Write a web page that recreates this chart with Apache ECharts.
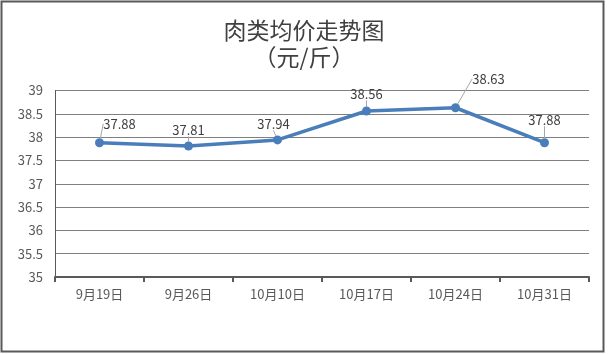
<!DOCTYPE html>
<html>
<head>
<meta charset="utf-8">
<script src="https://cdn.jsdelivr.net/npm/echarts@6/dist/echarts.min.js"></script>
<style>
  html, body { margin: 0; padding: 0; background: #fff; }
  #main { width: 608px; height: 354px; }
</style>
</head>
<body>
<div id="main"></div>
<script>
// 日期
const dates = ['9月19日', '9月26日', '10月10日', '10月17日', '10月24日', '10月31日'];
// 肉类均价（元/斤）
const prices = [37.88, 37.81, 37.94, 38.56, 38.63, 37.88];

const myChart = echarts.init(document.getElementById('main'));
const font = '"Noto Sans CJK SC", "Noto Sans", sans-serif';
// 标签偏移
const labelShift = [[20, -2], [0, 1], [-4, 1], [0, 0], [33, -12], [0, -6]];

myChart.setOption({
  animation: false,
  graphic: [{
    type: 'rect',
    shape: { x: 1.5, y: 1.5, width: 602, height: 350 },
    style: { fill: 'none', stroke: '#595959', lineWidth: 2 }
  }],
  title: {
    text: '肉类均价走势图\n（元/斤）',
    left: 'center',
    top: 12,
    textStyle: { fontFamily: font, fontSize: 23, fontWeight: 'normal', color: '#404040', lineHeight: 27 }
  },
  grid: { left: 55, right: 19, top: 90.5, bottom: 77 },
  xAxis: {
    type: 'category',
    data: dates,
    boundaryGap: true,
    axisLine: { lineStyle: { color: '#595959', width: 2 } },
    axisTick: { show: true, length: 5, lineStyle: { color: '#595959', width: 2 } },
    axisLabel: { fontFamily: font, fontSize: 13, color: '#595959', margin: 11 }
  },
  yAxis: {
    type: 'value',
    min: 35,
    max: 39,
    interval: 0.5,
    axisLine: { show: true, lineStyle: { color: '#595959', width: 1 } },
    axisTick: { show: false },
    axisLabel: { fontFamily: font, fontSize: 13, color: '#595959', margin: 12 },
    splitLine: { lineStyle: { color: '#7f7f7f', width: 1 } }
  },
  series: [{
    type: 'line',
    data: prices,
    symbol: 'circle',
    symbolSize: 9,
    lineStyle: { color: '#4a7ebb', width: 3.5 },
    itemStyle: { color: '#4a7ebb' },
    label: {
      show: true,
      position: 'top',
      distance: 6,
      fontFamily: font,
      fontSize: 13,
      color: '#404040'
    },
    labelLine: { show: true, lineStyle: { color: '#a6a6a6', width: 1 } },
    labelLayout: function (params) {
      const s = labelShift[params.dataIndex];
      return { dx: s[0], dy: s[1] };
    }
  }]
});
</script>
</body>
</html>
